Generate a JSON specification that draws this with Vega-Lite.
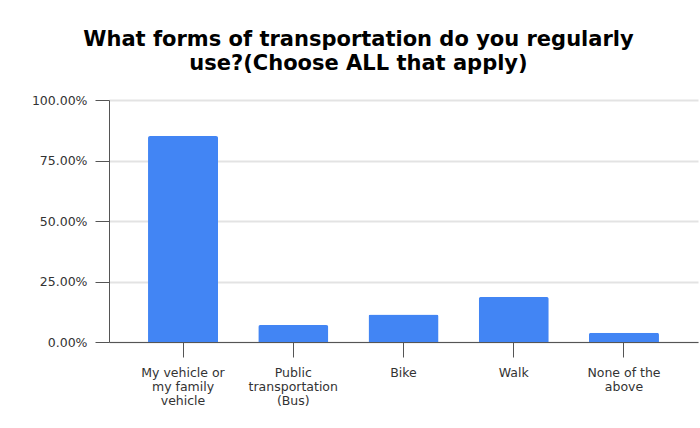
{
  "$schema": "https://vega.github.io/schema/vega-lite/v6.json",
  "autosize": "none",
  "width": 589,
  "height": 242,
  "padding": {"left": 109, "top": 100, "right": 2, "bottom": 86},
  "background": "white",
  "title": {
    "text": ["What forms of transportation do you regularly", "use?(Choose ALL that apply)"],
    "font": "DejaVu Sans",
    "fontSize": 21,
    "fontWeight": "bold",
    "color": "#000000",
    "lineHeight": 24.5,
    "anchor": "middle",
    "frame": "group",
    "dx": -45,
    "offset": 20
  },
  "data": {
    "values": [
      {"option": "My vehicle or my family vehicle", "share": 0.851},
      {"option": "Public transportation (Bus)", "share": 0.07},
      {"option": "Bike", "share": 0.114},
      {"option": "Walk", "share": 0.186},
      {"option": "None of the above", "share": 0.038}
    ]
  },
  "mark": {"type": "bar", "color": "#4285F4", "cornerRadiusTopLeft": 2, "cornerRadiusTopRight": 2},
  "encoding": {
    "x": {
      "field": "option",
      "type": "nominal",
      "sort": null,
      "scale": {"paddingInner": 0.365, "paddingOuter": 0.354},
      "axis": {
        "title": null,
        "labelAngle": 0,
        "labelFont": "DejaVu Sans",
        "labelFontSize": 12.5,
        "labelColor": "#333333",
        "labelLineHeight": 14.3,
        "labelPadding": 9,
        "tickSize": 15,
        "tickColor": "#555555",
        "domainColor": "#555555",
        "labelExpr": "datum.value == 'My vehicle or my family vehicle' ? ['My vehicle or', 'my family', 'vehicle'] : datum.value == 'Public transportation (Bus)' ? ['Public', 'transportation', '(Bus)'] : datum.value == 'None of the above' ? ['None of the', 'above'] : datum.value"
      }
    },
    "y": {
      "field": "share",
      "type": "quantitative",
      "scale": {"domain": [0, 1], "nice": false},
      "axis": {
        "title": null,
        "format": ".2%",
        "values": [0, 0.25, 0.5, 0.75, 1],
        "labelFont": "DejaVu Sans",
        "labelFontSize": 12.5,
        "labelColor": "#333333",
        "labelPadding": 8,
        "tickSize": 14,
        "tickColor": "#555555",
        "domainColor": "#555555",
        "gridColor": "#e3e3e3",
        "gridWidth": 2
      }
    }
  },
  "config": {
    "view": {"stroke": null}
  }
}
